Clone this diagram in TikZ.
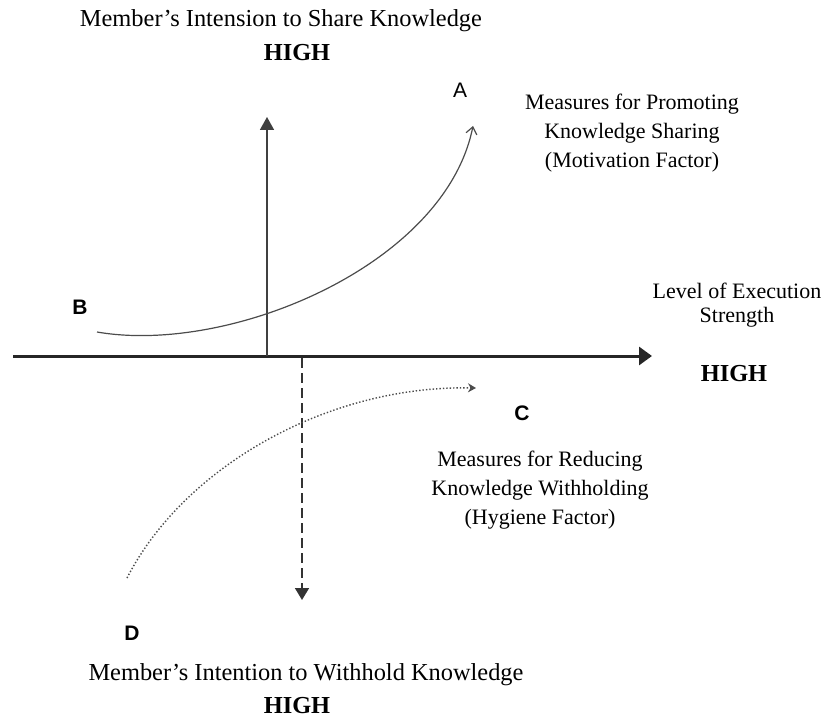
\documentclass[tikz,border=0pt]{standalone}
\usepackage{fontspec}
\setmainfont{Liberation Serif}
\newfontfamily\letterfont{Liberation Sans}
\usetikzlibrary{arrows.meta}

\tikzset{
  axistitle/.style={font=\fontsize{12.2}{14}\selectfont, inner sep=0pt},
  hightext/.style={font=\fontsize{12.2}{14}\selectfont\bfseries, inner sep=0pt},
  measure/.style={align=center, font=\fontsize{11}{14.5}\selectfont, inner sep=0pt},
  pointname/.style={font=\letterfont\bfseries\fontsize{10.5}{12}\selectfont, inner sep=0pt},
}

\begin{document}
\begin{tikzpicture}[x=0.5pt, y=-0.5pt]
		%%%%% START %%%%%
		\useasboundingbox (0,0) rectangle (825,717);
		
		\coordinate (xl) at (13,356);
		\coordinate (xr) at (652,356);
		\coordinate (yb) at (267,356);
		\coordinate (yt) at (267,117);
		\coordinate (db) at (302,358);
		\coordinate (dt) at (302,600);
		\coordinate (ptB) at (97,332);
		\coordinate (ptA) at (473,126);
		\coordinate (ptD) at (127,578);
		\coordinate (ptC) at (476,388);
		
		% axes
		\draw[line width=1.5pt, black!85, -{Triangle[length=6.5pt,width=9pt]}] (xl) -- (xr);
		\draw[line width=0.8pt, black!75, -{Triangle[length=6.5pt,width=7pt]}] (yb) -- (yt);
		\draw[line width=0.8pt, black!80, dash pattern=on 5pt off 2.5pt, -{Triangle[length=6pt,width=7pt]}] (db) -- (dt);
		
		% curves
		\draw[line width=0.6pt, black!70, -{Straight Barb[length=3.5pt,width=5.5pt]}] (ptB) .. controls (230,355) and (445,265) .. (ptA);
		\draw[line width=0.7pt, black!70, densely dotted, -{Stealth[length=4pt,width=4.5pt]}] (ptD) .. controls (185,465) and (330,385) .. (ptC);
		
		% letters
		\node[pointname, font=\letterfont\fontsize{10.5}{12}\selectfont] (lA) at (460,90) {A};
		\node[pointname] (lB) at (80,307) {B};
		\node[pointname] (lC) at (522,413) {C};
		\node[pointname] (lD) at (132,633) {D};
		
		% texts
		\node[axistitle] (share) at (281,21) {Member’s Intension to Share Knowledge};
		\node[hightext] (sharehigh) at (297,53) {HIGH};
		\node[measure] (promote) at (632,133) {Measures for Promoting\\Knowledge Sharing\\(Motivation Factor)};
		\node[measure, font=\fontsize{11}{12}\selectfont] (level) at (737,305) {Level of Execution\\Strength};
		\node[hightext] (levelhigh) at (734,374) {HIGH};
		\node[measure] (reduce) at (540,490) {Measures for Reducing\\Knowledge Withholding\\(Hygiene Factor)};
		\node[axistitle] (withhold) at (306,675) {Member’s Intention to Withhold Knowledge};
		\node[hightext] (withholdhigh) at (297,706) {HIGH};
		
		%%%%% END %%%%%
	\end{tikzpicture}
\end{document}
